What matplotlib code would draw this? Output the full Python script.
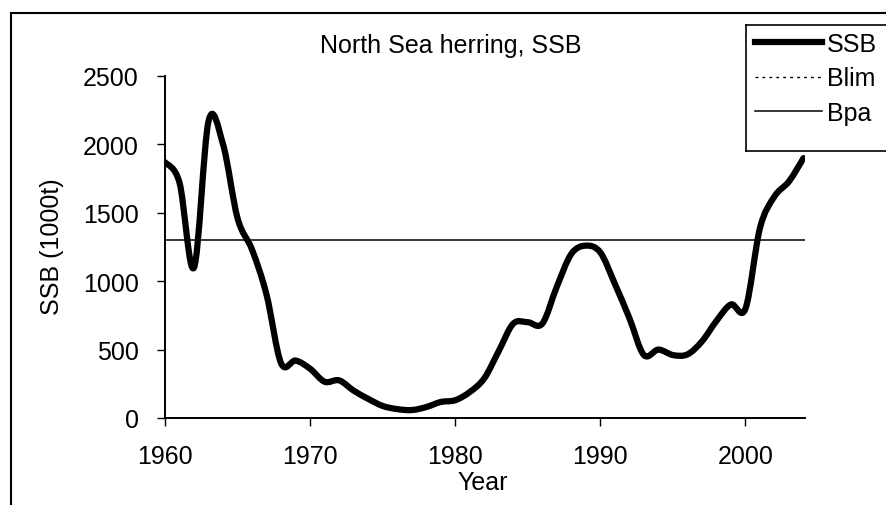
"""North Sea herring SSB chart (recreated)."""
import matplotlib
matplotlib.use("Agg")
import matplotlib.pyplot as plt
import numpy as np
from matplotlib.lines import Line2D
from matplotlib.patches import PathPatch
from matplotlib.path import Path

plt.rcParams["font.family"] = ["Liberation Sans", "DejaVu Sans"]

years = list(range(1960, 2005))
ssb = [1870, 1720, 1100, 2170, 2000, 1460, 1230, 900, 400, 420,
       360, 265, 275, 200, 140, 88, 65, 58, 80, 117,
       130, 190, 290, 490, 690, 700, 690, 960, 1200, 1260,
       1210, 980, 730, 460, 500, 460, 465, 560, 710, 830,
       800, 1390, 1620, 1730, 1900]
bpa = 1300
yticks = [0, 500, 1000, 1500, 2000, 2500]
xticks = [1960, 1970, 1980, 1990, 2000]


def smooth_path(x, y):
    # Catmull-Rom style bezier through the points, like a spreadsheet "smoothed line"
    x = np.asarray(x, float)
    y = np.asarray(y, float)
    verts = [(x[0], y[0])]
    codes = [Path.MOVETO]
    n = len(x)
    for i in range(n - 1):
        i0, i2, i3 = max(i - 1, 0), i + 1, min(i + 2, n - 1)
        c1 = (x[i] + (x[i2] - x[i0]) / 6, y[i] + (y[i2] - y[i0]) / 6)
        c2 = (x[i2] - (x[i3] - x[i]) / 6, y[i2] - (y[i3] - y[i]) / 6)
        verts += [c1, c2, (x[i2], y[i2])]
        codes += [Path.CURVE4] * 3
    return Path(verts, codes)


W, H = 886, 506
fig = plt.figure(figsize=(W / 100, H / 100), dpi=100)
ax = fig.add_axes([165 / W, 1 - 419 / H, (805 - 165) / W, (419 - 77) / H])

ax.add_patch(PathPatch(smooth_path(years, ssb), fill=False, lw=4.5, color="black",
                       capstyle="round", joinstyle="round", zorder=3))
ax.axhline(bpa, color="black", lw=1.1, zorder=2)

ax.set_xlim(1960, 2004.1)
ax.set_ylim(0, 2500)
ax.set_xticks(xticks)
ax.set_yticks(yticks)
ax.tick_params(direction="out", length=6, width=1, labelsize=18, pad=13, color="black")
for s in ("top", "right"):
    ax.spines[s].set_visible(False)
for s in ("left", "bottom"):
    ax.spines[s].set_linewidth(1.4)

fig.text(451 / W, 1 - 46 / H, "North Sea herring, SSB", fontsize=18, ha="center", va="center")
fig.text(52 / W, 1 - 247 / H, "SSB (1000t)", fontsize=18, rotation=90, ha="center", va="center")
fig.text(483 / W, 1 - 483 / H, "Year", fontsize=18, ha="center", va="center")

# legend box runs off the right edge in the original, so draw its frame by hand
lx0, lx1, ly0, ly1 = 746 / W, 885.5 / W, 1 - 152 / H, 1 - 26 / H
for xs, ys in (([lx0, lx1], [ly1, ly1]), ([lx0, lx1], [ly0, ly0]), ([lx0, lx0], [ly0, ly1])):
    fig.add_artist(Line2D(xs, ys, color="black", lw=1.2, transform=fig.transFigure, zorder=4,
                          clip_on=False))

handles = [Line2D([], [], color="black", lw=4.5),
           Line2D([], [], color="black", lw=1, linestyle=(0, (2, 3))),
           Line2D([], [], color="black", lw=1.1)]
leg = fig.legend(handles, ["SSB", "Blim", "Bpa"], loc="upper left",
                 bbox_to_anchor=(752 / W, 1 - 30 / H), bbox_transform=fig.transFigure,
                 fontsize=18, frameon=False, borderaxespad=0, borderpad=0.1,
                 handlelength=2.7, handletextpad=0.2, labelspacing=0.43)
leg.legendPatch.set_visible(False)
leg.set_zorder(5)

# outer chart-area frame (cropped on the right and bottom)
fig.add_artist(Line2D([11 / W, 11 / W], [0, 1 - 14 / H], color="black", lw=1.5,
                      transform=fig.transFigure))
fig.add_artist(Line2D([11 / W, 885.5 / W], [1 - 14 / H, 1 - 14 / H], color="black", lw=1.5,
                      transform=fig.transFigure))

fig.savefig("out.png", dpi=100)
